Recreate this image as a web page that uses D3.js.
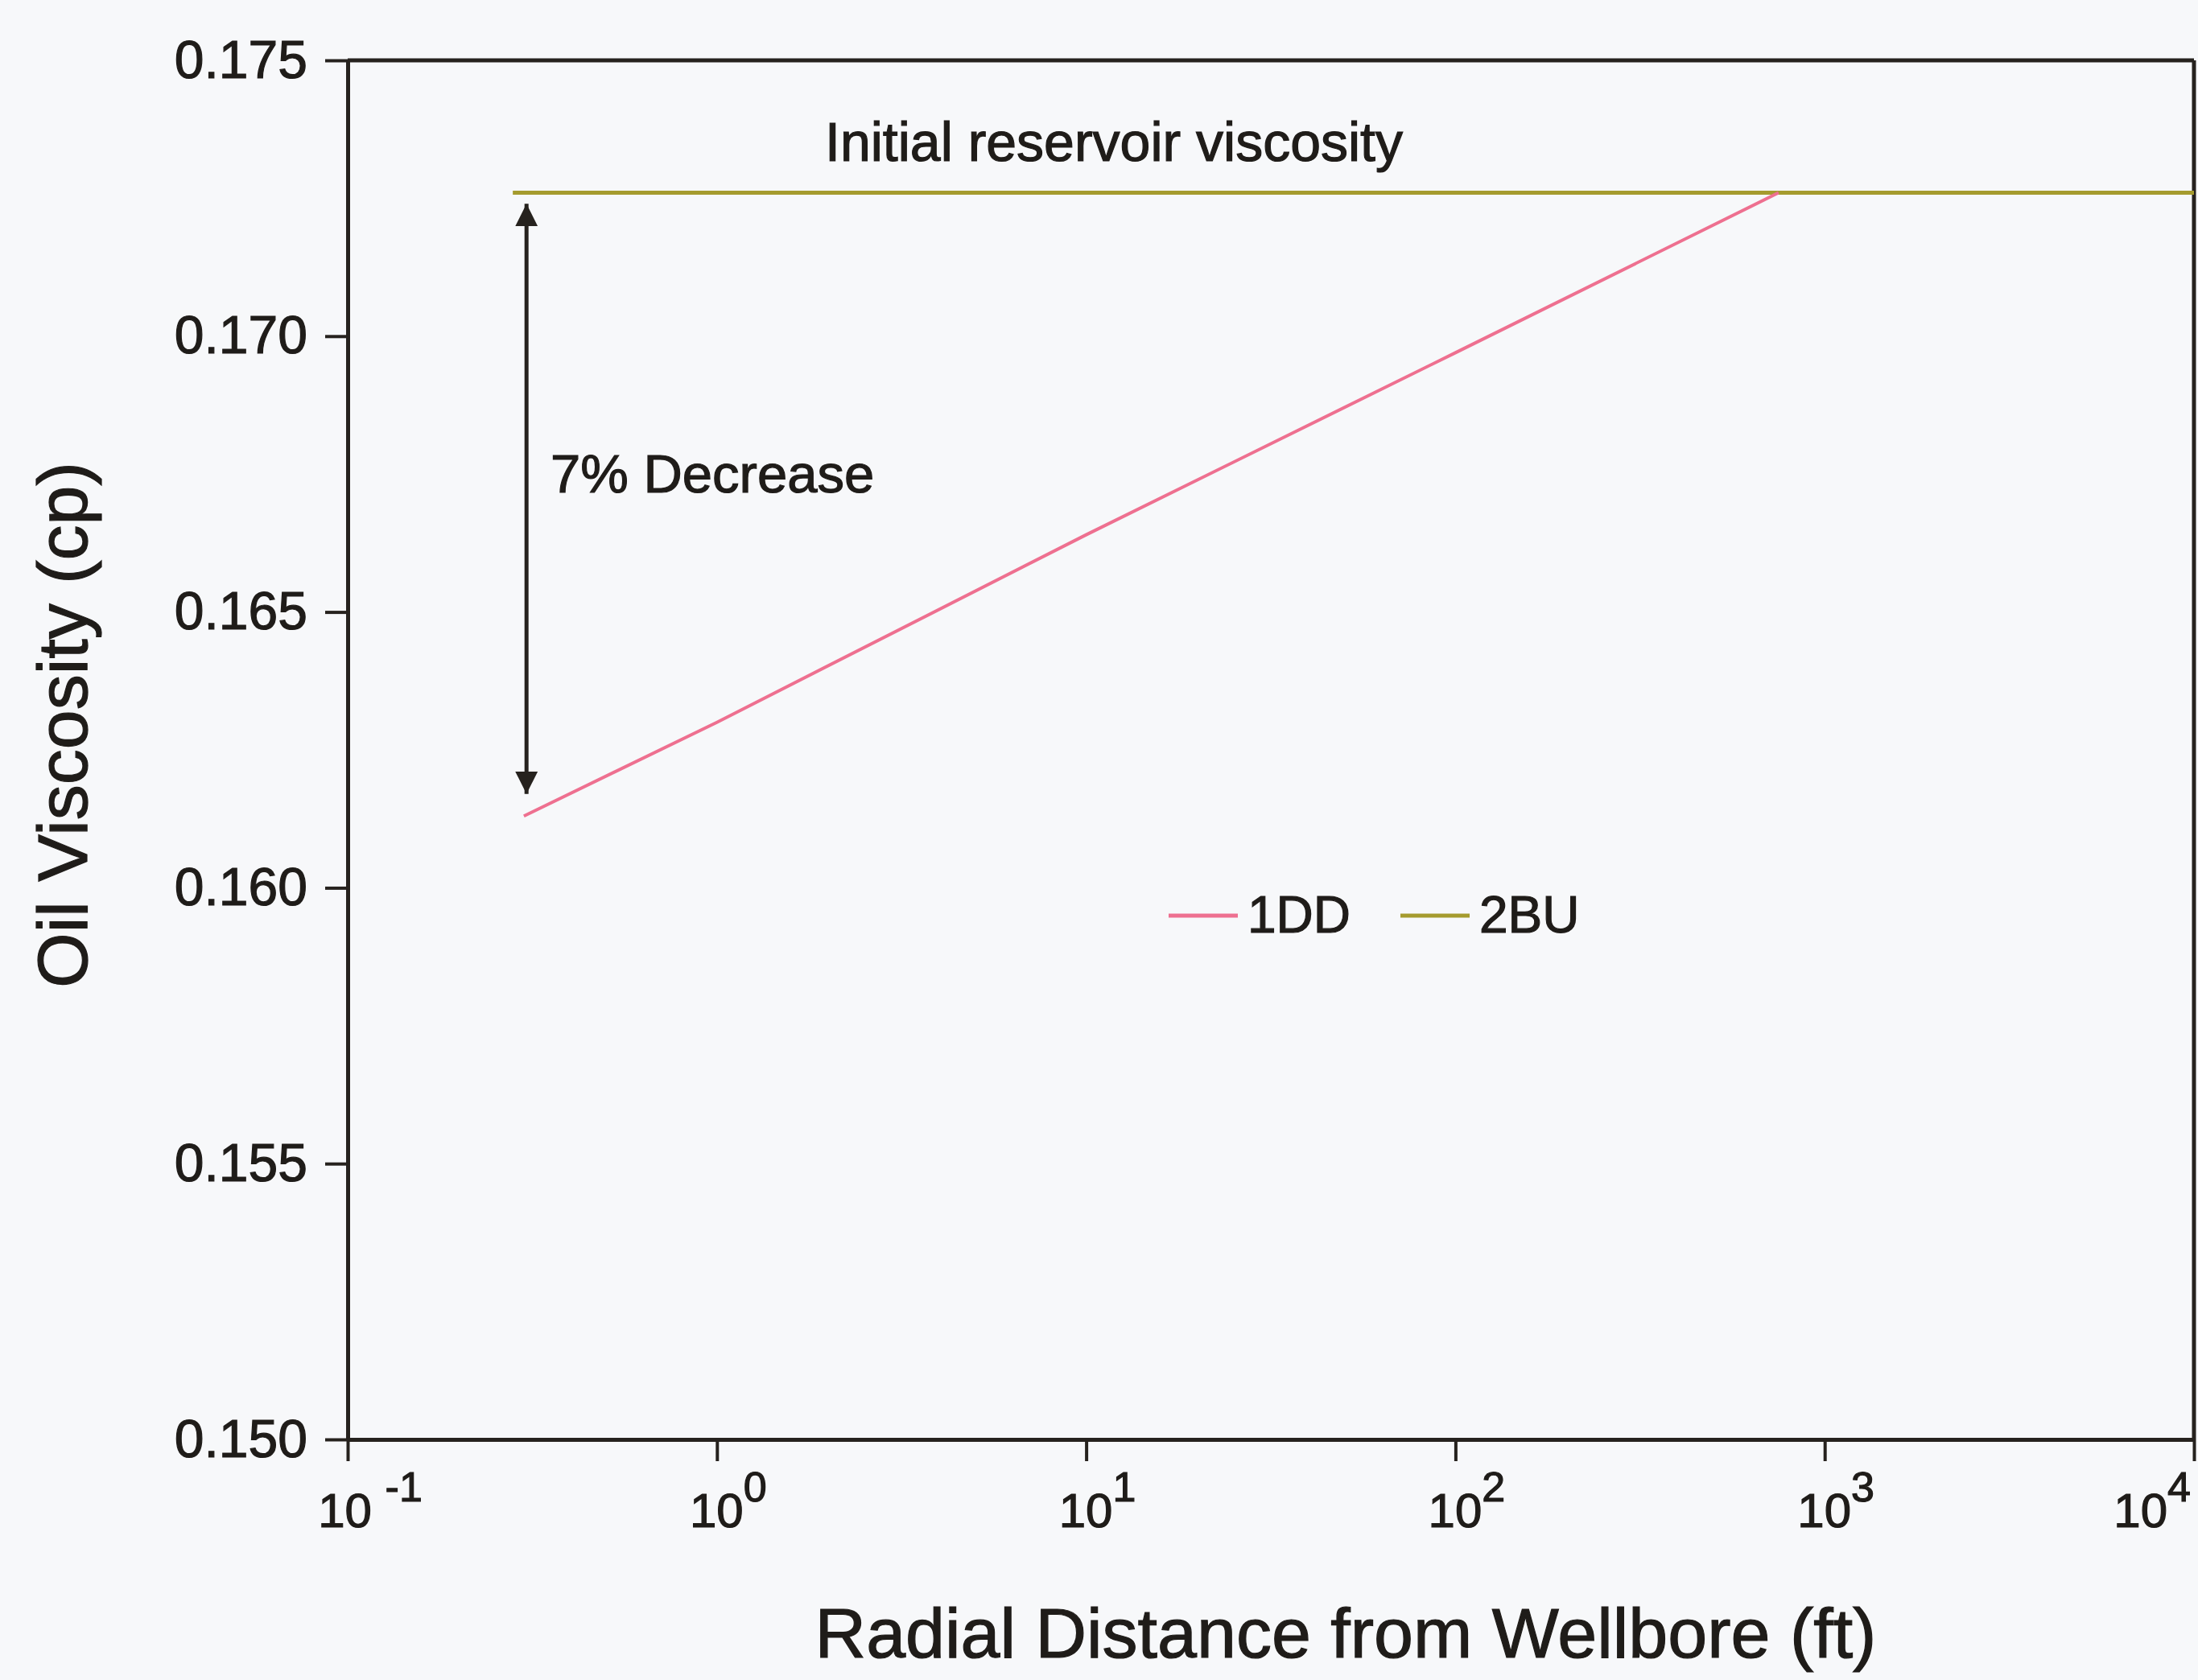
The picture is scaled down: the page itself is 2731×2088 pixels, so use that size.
<!DOCTYPE html>
<html>
<head>
<meta charset="utf-8">
<script src="https://cdn.jsdelivr.net/npm/d3@7"></script>
<style>
  html, body { margin: 0; padding: 0; background: #f7f8fa; }
  svg { display: block; }
  text { font-family: "Liberation Sans", Arial, Helvetica, sans-serif; fill: #1f1c19;
         stroke: #1f1c19; stroke-width: 1.2px; }
</style>
</head>
<body>
<svg id="chart" width="2731" height="2088"></svg>
<script>
// Axis ticks
const xTicks = [0.1, 1, 10, 100, 1000, 10000];
const xTickExponents = ["-1", "0", "1", "2", "3", "4"];
const yTicks = [0.150, 0.155, 0.160, 0.165, 0.170, 0.175];

// Series
const seriesNames = ["1DD", "2BU"];
const seriesColors = ["#ee7090", "#a59b2e"];
const dd1Distance = [0.30, 1, 10, 100, 750];
const dd1Viscosity = [0.1613, 0.1630, 0.1664, 0.1697, 0.1726];
const bu2Distance = [0.28, 10000];
const bu2Viscosity = [0.1726, 0.1726];

// Annotation: drop from initial viscosity to the near-wellbore value
const arrowDistance = 0.305;
const arrowTop = 0.1724;
const arrowBottom = 0.1617;

const plot = { left: 432, right: 2726, top: 75, bottom: 1789 };

const svg = d3.select("#chart");

const x = d3.scaleLog().domain([0.1, 10000]).range([plot.left, plot.right]);
const y = d3.scaleLinear().domain([0.150, 0.175]).range([plot.bottom, plot.top]);

const ink = "#26221e";

// Y axis
const yAxis = svg.append("g")
  .attr("transform", `translate(${plot.left},0)`)
  .call(d3.axisLeft(y).tickValues(yTicks).tickSize(28).tickSizeOuter(0)
    .tickPadding(22).tickFormat(d3.format(".3f")));
yAxis.select(".domain").attr("stroke", ink).attr("stroke-width", 5);
yAxis.selectAll(".tick line").attr("stroke", ink).attr("stroke-width", 4);
yAxis.selectAll(".tick text")
  .attr("font-size", 66).attr("fill", "#1f1c19")
  .style("font-family", '"Liberation Sans", Arial, sans-serif');

// X axis
const xAxis = svg.append("g")
  .attr("transform", `translate(0,${plot.bottom})`)
  .call(d3.axisBottom(x).tickValues(xTicks).tickSize(27).tickSizeOuter(0).tickFormat(""));
xAxis.select(".domain").attr("stroke", ink).attr("stroke-width", 5);
xAxis.selectAll(".tick line").attr("stroke", ink).attr("stroke-width", 4);

// Powers of ten labels
const xLabels = svg.append("g");
xTicks.forEach((v, i) => {
  const last = i === xTicks.length - 1;
  const t = xLabels.append("text")
    .attr("x", last ? x(v) - 4 : x(v) + (i === 0 ? 28 : 14))
    .attr("y", 1898)
    .attr("text-anchor", last ? "end" : "middle")
    .attr("font-size", 60);
  t.append("tspan").text(i === 0 ? "10 " : "10");
  t.append("tspan").attr("dy", -32).attr("font-size", 52).text(xTickExponents[i]);
});

// Frame: top and right edges
svg.append("line")
  .attr("x1", plot.left).attr("x2", x(10000))
  .attr("y1", y(0.175)).attr("y2", y(0.175))
  .attr("stroke", ink).attr("stroke-width", 5);
svg.append("line")
  .attr("x1", x(10000)).attr("x2", x(10000))
  .attr("y1", y(0.175)).attr("y2", y(0.150))
  .attr("stroke", ink).attr("stroke-width", 5);

// Series lines
const line = d3.line().x(d => x(d[0])).y(d => y(d[1]));
const seriesData = [
  d3.zip(dd1Distance, dd1Viscosity),
  d3.zip(bu2Distance, bu2Viscosity)
];
svg.append("path")
  .datum(seriesData[1])
  .attr("d", line)
  .attr("fill", "none")
  .attr("stroke", seriesColors[1])
  .attr("stroke-width", 5);
svg.append("path")
  .datum(seriesData[0])
  .attr("d", line)
  .attr("fill", "none")
  .attr("stroke", seriesColors[0])
  .attr("stroke-width", 4);

// Double-headed arrow
const defs = svg.append("defs");
defs.append("marker")
  .attr("id", "head")
  .attr("viewBox", "0 0 10 10")
  .attr("refX", 10).attr("refY", 5)
  .attr("markerUnits", "userSpaceOnUse")
  .attr("markerWidth", 28).attr("markerHeight", 30)
  .attr("orient", "auto-start-reverse")
  .append("path")
  .attr("d", "M0,0 L10,5 L0,10 Z")
  .attr("fill", ink);

svg.append("line")
  .attr("x1", x(arrowDistance)).attr("x2", x(arrowDistance))
  .attr("y1", y(arrowTop)).attr("y2", y(arrowBottom))
  .attr("stroke", ink).attr("stroke-width", 5)
  .attr("marker-start", "url(#head)")
  .attr("marker-end", "url(#head)");

// Annotations
svg.append("text")
  .attr("x", 684).attr("y", 612)
  .attr("font-size", 67)
  .text("7% Decrease");

svg.append("text")
  .attr("x", 1025).attr("y", 200)
  .attr("font-size", 68)
  .text("Initial reservoir viscosity");

// Legend
const legendX = [1452, 1740];
const legendY = 1138;
const legend = svg.append("g");
seriesNames.forEach((name, i) => {
  legend.append("line")
    .attr("x1", legendX[i]).attr("x2", legendX[i] + 86)
    .attr("y1", legendY).attr("y2", legendY)
    .attr("stroke", seriesColors[i]).attr("stroke-width", 5);
  legend.append("text")
    .attr("x", legendX[i] + 98).attr("y", legendY + 21)
    .attr("font-size", 64)
    .text(name);
});

// Axis titles
svg.append("text")
  .attr("x", 1672).attr("y", 2060)
  .attr("text-anchor", "middle")
  .attr("font-size", 88)
  .text("Radial Distance from Wellbore (ft)");

svg.append("text")
  .attr("transform", `translate(108,901) rotate(-90)`)
  .attr("text-anchor", "middle")
  .attr("font-size", 88)
  .text("Oil Viscosity (cp)");
</script>
</body>
</html>
